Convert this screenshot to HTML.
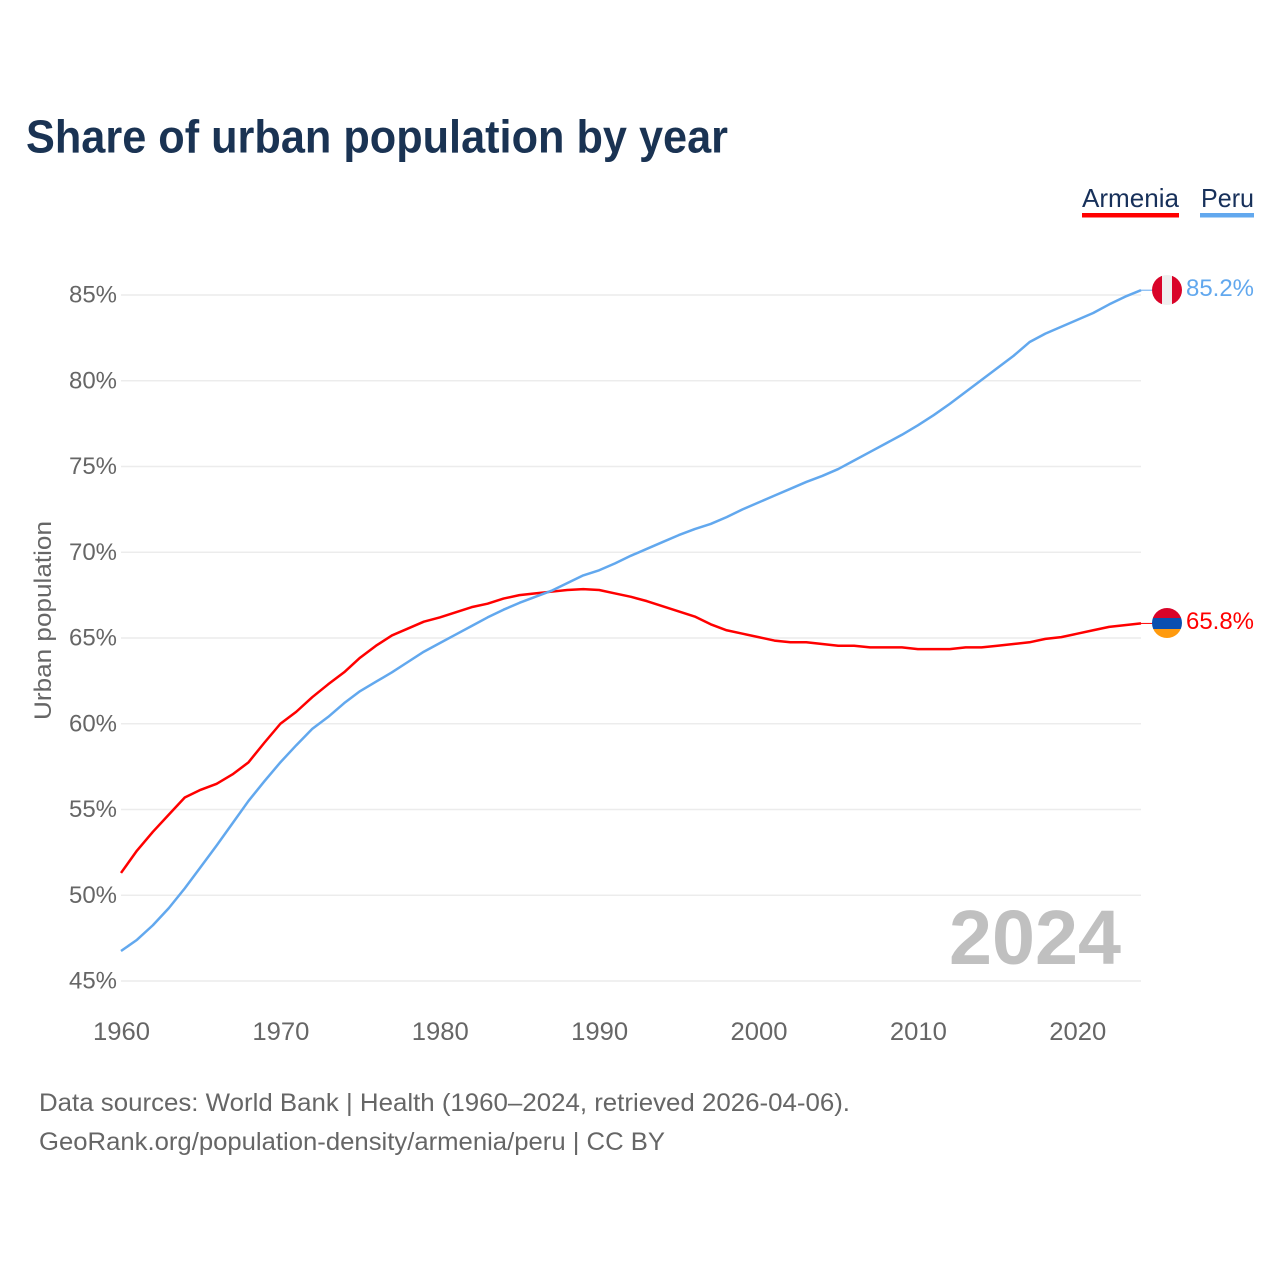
<!DOCTYPE html>
<html lang="en">
<head>
<meta charset="utf-8">
<title>Share of urban population by year</title>
<style>
html,body{margin:0;padding:0;background:#fff;width:1280px;height:1280px;overflow:hidden}
svg{display:block}
text{font-family:"Liberation Sans",sans-serif}
</style>
</head>
<body>
<svg id="chart" xmlns="http://www.w3.org/2000/svg" width="1280" height="1280" viewBox="0 0 1280 1280">
  <defs>
    <clipPath id="peru-clip"><circle cx="1167" cy="290" r="15"/></clipPath>
    <clipPath id="armenia-clip"><circle cx="1167" cy="623" r="15"/></clipPath>
  </defs>
  <text x="26" y="152.5" font-size="46" font-weight="700" fill="#1a3353" textLength="702" lengthAdjust="spacingAndGlyphs">Share of urban population by year</text>

  <g id="grid"></g>
  <g id="yticks"></g>
  <g id="xticks"></g>
  <text transform="translate(51,720) rotate(-90)" font-size="24" fill="#666" textLength="199" lengthAdjust="spacingAndGlyphs">Urban population</text>

  <text x="949" y="964" font-size="77" font-weight="700" fill="#c0c0c0" textLength="172" lengthAdjust="spacingAndGlyphs">2024</text>

  <g id="series"></g>

  <g clip-path="url(#peru-clip)">
    <rect x="1152" y="275" width="10" height="30" fill="#d90429"/>
    <rect x="1162" y="275" width="10" height="30" fill="#efefef"/>
    <rect x="1172" y="275" width="10" height="30" fill="#d90429"/>
  </g>
  <g clip-path="url(#armenia-clip)">
    <rect x="1152" y="608" width="30" height="10" fill="#d90429"/>
    <rect x="1152" y="618" width="30" height="11" fill="#0a4fb0"/>
    <rect x="1152" y="629" width="30" height="9" fill="#ff9a0e"/>
  </g>
  <text id="peru-value" x="1186" y="296" font-size="24" fill="#62a8ee" textLength="68" lengthAdjust="spacingAndGlyphs"></text>
  <text id="armenia-value" x="1186" y="629" font-size="24" fill="#ff0000" textLength="68" lengthAdjust="spacingAndGlyphs"></text>

  <g>
    <text x="1082" y="207" font-size="26" fill="#17305a" textLength="97" lengthAdjust="spacingAndGlyphs">Armenia</text>
    <rect x="1082" y="213" width="97" height="4.5" fill="#ff0000"/>
    <text x="1201" y="207" font-size="26" fill="#17305a" textLength="53" lengthAdjust="spacingAndGlyphs">Peru</text>
    <rect x="1200" y="213" width="54" height="4.5" fill="#62a8ee"/>
  </g>

  <text x="39" y="1111" font-size="25" fill="#666" textLength="811" lengthAdjust="spacingAndGlyphs">Data sources: World Bank | Health (1960–2024, retrieved 2026-04-06).</text>
  <text x="39" y="1150" font-size="25" fill="#666" textLength="626" lengthAdjust="spacingAndGlyphs">GeoRank.org/population-density/armenia/peru | CC BY</text>
</svg>
<script>
const firstYear = 1960;
const lastYear = 2024;
const yTickValues = [45, 50, 55, 60, 65, 70, 75, 80, 85];
const xTickValues = [1960, 1970, 1980, 1990, 2000, 2010, 2020];
const armeniaValues = [51.3,52.6,53.7,54.7,55.7,56.15,56.5,57.05,57.75,58.9,60.0,60.7,61.55,62.3,63.0,63.85,64.55,65.15,65.55,65.95,66.2,66.5,66.8,67.0,67.3,67.5,67.6,67.7,67.8,67.85,67.8,67.6,67.4,67.15,66.85,66.55,66.25,65.8,65.45,65.25,65.05,64.85,64.75,64.75,64.65,64.55,64.55,64.45,64.45,64.45,64.35,64.35,64.35,64.45,64.45,64.55,64.65,64.75,64.95,65.05,65.25,65.45,65.65,65.75,65.85];
const peruValues = [46.75,47.4,48.25,49.25,50.4,51.65,52.9,54.2,55.5,56.65,57.75,58.75,59.7,60.4,61.2,61.9,62.45,63.0,63.6,64.2,64.7,65.2,65.7,66.2,66.65,67.05,67.4,67.75,68.2,68.65,68.95,69.35,69.8,70.2,70.6,71.0,71.35,71.65,72.05,72.5,72.9,73.3,73.7,74.1,74.45,74.85,75.35,75.85,76.35,76.85,77.4,78.0,78.65,79.35,80.05,80.75,81.45,82.25,82.75,83.15,83.55,83.95,84.45,84.9,85.28];
const armeniaEndLabel = 65.8;
const peruEndLabel = 85.2;

const NS = 'http://www.w3.org/2000/svg';
const xScale = function (year) { return 121 + (year - firstYear) * (1141 - 121) / (lastYear - firstYear); };
const yScale = function (v) { return 981 - (v - 45) * (981 - 295) / 40; };

const grid = document.getElementById('grid');
const yticks = document.getElementById('yticks');
const xticks = document.getElementById('xticks');
const series = document.getElementById('series');

yTickValues.forEach(function (v) {
  const line = document.createElementNS(NS, 'line');
  
  
  line.setAttribute('x1', 121);
  line.setAttribute('x2', 1141);
  line.setAttribute('y1', yScale(v));
  line.setAttribute('y2', yScale(v));
  line.setAttribute('stroke', '#ececec');
  line.setAttribute('stroke-width', '1.4');
  grid.appendChild(line);

  const t = document.createElementNS(NS, 'text');
  
  
  t.setAttribute('x', 69);
  t.setAttribute('y', yScale(v) + 7.6);
  t.setAttribute('font-size', '24');
  t.setAttribute('fill', '#666');
  t.setAttribute('textLength', '48');
  t.setAttribute('lengthAdjust', 'spacingAndGlyphs');
  t.textContent = v + '%';
  yticks.appendChild(t);
});

xTickValues.forEach(function (year) {
  const t = document.createElementNS(NS, 'text');
  
  
  t.setAttribute('x', xScale(year) - 28);
  t.setAttribute('y', 1040);
  t.setAttribute('font-size', '25');
  t.setAttribute('fill', '#666');
  t.setAttribute('textLength', '57');
  t.setAttribute('lengthAdjust', 'spacingAndGlyphs');
  t.textContent = year;
  xticks.appendChild(t);
});

function drawSeries(values, color, name) {
  const d = values.map(function (v, i) {
    return (i ? 'L' : 'M') + xScale(firstYear + i).toFixed(2) + ' ' + yScale(v).toFixed(2);
  }).join(' ');
  const path = document.createElementNS(NS, 'path');
  
  
  path.setAttribute('d', d);
  path.setAttribute('fill', 'none');
  path.setAttribute('stroke', color);
  path.setAttribute('stroke-width', '2.5');
  path.setAttribute('stroke-linejoin', 'round');
  series.appendChild(path);

  const endY = yScale(values[values.length - 1]);
  const link = document.createElementNS(NS, 'line');
  
  
  link.setAttribute('x1', xScale(lastYear));
  link.setAttribute('x2', 1153);
  link.setAttribute('y1', endY);
  link.setAttribute('y2', endY);
  link.setAttribute('stroke', color);
  link.setAttribute('stroke-width', '1');
  series.appendChild(link);
}
drawSeries(armeniaValues, '#ff0000', 'armenia');
drawSeries(peruValues, '#62a8ee', 'peru');

document.getElementById('peru-value').textContent = peruEndLabel.toFixed(1) + '%';
document.getElementById('armenia-value').textContent = armeniaEndLabel.toFixed(1) + '%';
</script>
</body>
</html>
